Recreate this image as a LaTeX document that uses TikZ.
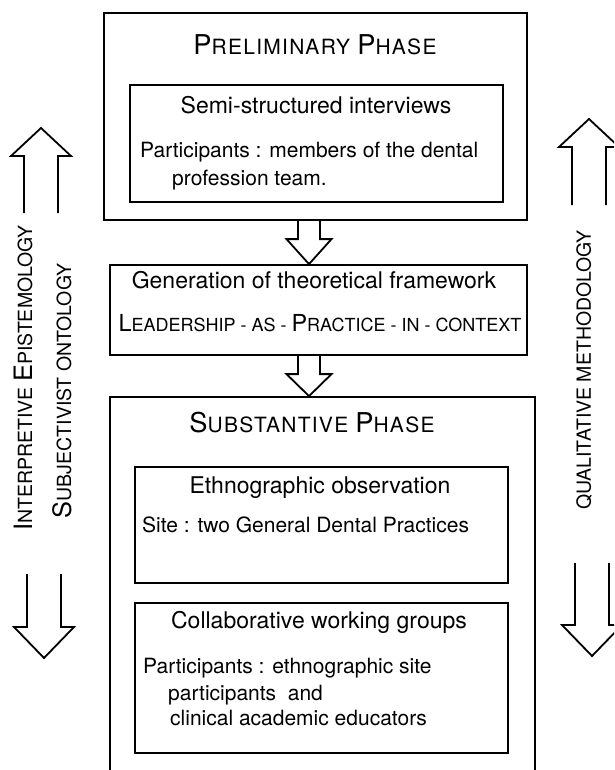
\documentclass[tikz,border=0pt]{standalone}
\usepackage{fontspec}
\setmainfont{TeX Gyre Heros}
\usepackage{graphicx}
\usetikzlibrary{calc}
\newcommand{\initial}[1]{\scalebox{1.3}{#1}}

\begin{document}
\begin{tikzpicture}[x=1pt,y=-1pt,
	box/.style={draw,line width=1.8pt,inner sep=0pt},
	hollow/.style={line width=1.8pt,line join=miter},
	phase/.style={font=\fontsize{21}{25}\selectfont\addfontfeature{LetterSpace=6}},
	title/.style={font=\fontsize{23}{27}\selectfont,text height=16pt,text depth=5pt,inner sep=0pt},
	body/.style={font=\fontsize{21}{25}\selectfont,anchor=west,text height=15pt,text depth=4pt,inner sep=0pt},
	side/.style={font=\fontsize{19.5}{23}\selectfont,rotate=90,inner sep=0pt}]
	\clip (0,0) rectangle (614,770);
	\coordinate (axis) at (309,0);
	\node[box,minimum width=423pt,minimum height=207pt] (prelim) at (315.5,116.5) {};
	\node[phase] (prelimtitle) at (315,45) {\initial{P}RELIMINARY \initial{P}HASE};
	\node[box,minimum width=373pt,minimum height=117pt] (semi) at (316.5,143.5) {};
	\node[title] (semititle) at (316,108) {Semi-structured interviews};
	\node[body] (semitext) at (140,152) {Participants : members of the dental};
	\node[body] (semitext2) at (172,180) {profession team.};
	\node[box,minimum width=417pt,minimum height=90pt] (gen) at (318.5,310) {};
	\node[title] (gentitle) at (314,283) {Generation of theoretical framework};
	\node[font=\fontsize{18}{22}\selectfont] (gentext) at (320,323) {\initial{L}EADERSHIP - AS - \initial{P}RACTICE - IN - CONTEXT};
	\node[box,minimum width=425pt,minimum height=378pt] (subst) at (322.5,586) {};
	\node[phase] (substtitle) at (312,423) {\initial{S}UBSTANTIVE \initial{P}HASE};
	\node[box,minimum width=373pt,minimum height=116pt] (ethno) at (321.5,525) {};
	\node[title] (ethnotitle) at (320,488) {Ethnographic observation};
	\node[body] (ethnotext) at (142,527) {Site : two General Dental Practices};
	\node[box,minimum width=373pt,minimum height=150pt] (collab) at (321.5,678) {};
	\node[title] (collabtitle) at (319,623) {Collaborative working groups};
	\node[body] (collabtext) at (143,668) {Participants : ethnographic site};
	\node[body] (collabtext2) at (168,695) {participants \ and};
	\node[body] (collabtext3) at (170,720) {clinical academic educators};
	\draw[hollow] ($(prelim.south -| axis)+(-11,0)$) -- ($(gen.north -| axis)+(-11,-25)$) -- ++(-11.5,0) -- (gen.north -| axis) -- ++(22.5,-25) -- ++(-11.5,0) -- ($(prelim.south -| axis)+(11,0)$);
	\draw[hollow] ($(gen.south -| axis)+(-11,0)$) -- ($(subst.north -| axis)+(-11,-22)$) -- ++(-11.5,0) -- (subst.north -| axis) -- ++(22.5,-22) -- ++(-11.5,0) -- ($(gen.south -| axis)+(11,0)$);
	\foreach \ax/\tip/\base/\tail in {41/128/156/213,589/119/147/205,44/658/627/574,592/656/625/563}
		\draw[hollow] (\ax-17,\tail) -- (\ax-17,\base) -- (\ax-30,\base) -- (\ax,\tip) -- (\ax+30,\base) -- (\ax+17,\base) -- (\ax+17,\tail);
	\node[side] (epist) at (23,378) {\initial{I}NTERPRETIVE \initial{E}PISTEMOLOGY};
	\node[side] (onto) at (62,391) {\initial{S}UBJECTIVIST ONTOLOGY};
	\node[side] (qual) at (584,370) {QUALITATIVE METHODOLOGY};
\end{tikzpicture}
\end{document}
